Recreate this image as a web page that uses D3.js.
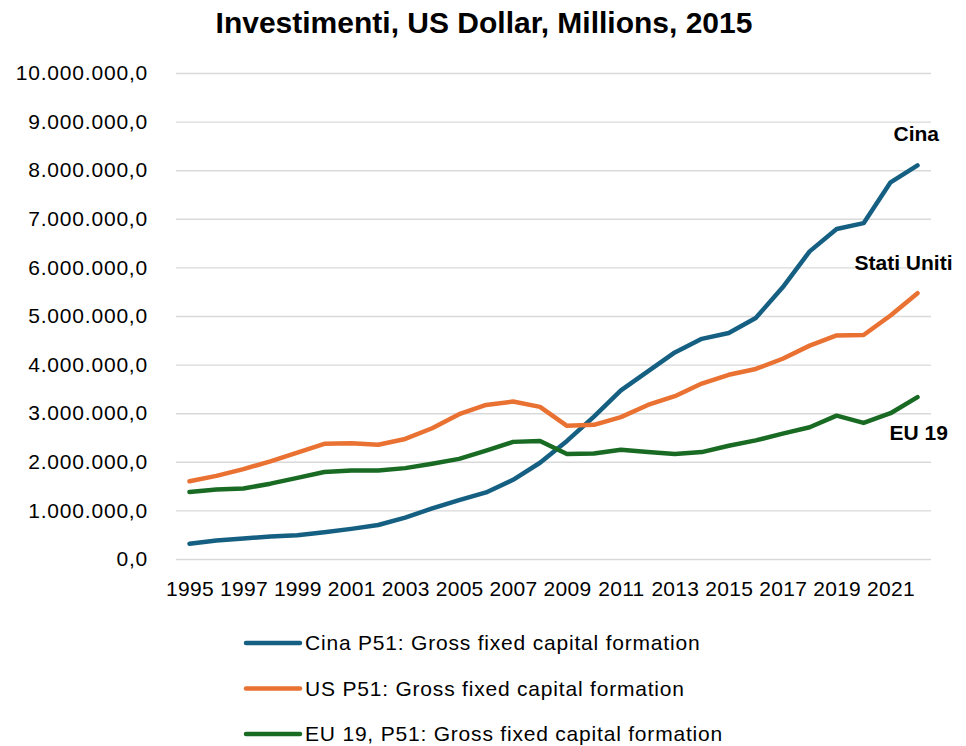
<!DOCTYPE html>
<html>
<head>
<meta charset="utf-8">
<script src="https://cdn.jsdelivr.net/npm/d3@7"></script>
<style>
  body { margin: 0; background: #fff; }
  text { font-family: "Liberation Sans", Arial, sans-serif; fill: #000; }
</style>
</head>
<body>
<div class="chartDiv"></div>
<script>
// years on the category axis
var years = d3.range(1995, 2023);
var tickYears = [1995, 1997, 1999, 2001, 2003, 2005, 2007, 2009, 2011, 2013, 2015, 2017, 2019, 2021];

// values in US Dollar millions
var cina = [315000, 380000, 420000, 465000, 490000, 550000, 620000, 700000, 850000, 1040000,
            1210000, 1370000, 1630000, 1980000, 2430000, 2930000, 3470000, 3860000, 4250000, 4530000,
            4650000, 4960000, 5590000, 6330000, 6790000, 6910000, 7750000, 8100000];
var us   = [1600000, 1710000, 1850000, 2010000, 2190000, 2370000, 2380000, 2350000, 2470000, 2690000,
            2980000, 3170000, 3240000, 3130000, 2740000, 2760000, 2920000, 3170000, 3350000, 3610000,
            3790000, 3910000, 4120000, 4390000, 4600000, 4610000, 5010000, 5470000];
var eu19 = [1380000, 1430000, 1450000, 1550000, 1670000, 1790000, 1820000, 1820000, 1870000, 1960000,
            2060000, 2230000, 2410000, 2430000, 2160000, 2170000, 2250000, 2200000, 2160000, 2200000,
            2330000, 2440000, 2580000, 2710000, 2950000, 2800000, 3000000, 3330000];

var seriesNames = ["Cina P51: Gross fixed capital formation",
                   "US P51: Gross fixed capital formation",
                   "EU 19, P51: Gross fixed capital formation"];
var endLabels = ["Cina", "Stati Uniti", "EU 19"];
var colors = ["#156082", "#E97132", "#196B24"];
var yTicks = d3.range(0, 10000001, 1000000);

var W = 966, H = 746;
var margin = {top: 73, right: 35, bottom: 187, left: 176};

var svg = d3.select('div.chartDiv').append('svg')
  .attr('width', W).attr('height', H);

var itFormat = d3.formatLocale({decimal: ",", thousands: ".", grouping: [3], currency: ["", ""]}).format(",.1f");

var x = d3.scalePoint().domain(years).range([margin.left, W - margin.right]).padding(0.5);
var y = d3.scaleLinear().domain([0, 10000000]).range([H - margin.bottom, margin.top]);

// title
svg.append('text')
  .attr('x', 484).attr('y', 33)
  .attr('text-anchor', 'middle')
  .style('font-size', '30px').style('font-weight', 'bold')
  .text('Investimenti, US Dollar, Millions, 2015');

// gridlines + y labels
var yAxis = d3.axisLeft(y).tickValues(yTicks).tickFormat(itFormat)
  .tickSize(-(W - margin.left - margin.right)).tickPadding(28);
var gy = svg.append('g').attr('transform', 'translate(' + margin.left + ',0)').call(yAxis);
gy.select('.domain').remove();
gy.selectAll('.tick line').attr('stroke', '#d9d9d9').attr('stroke-width', 1.4);
gy.selectAll('.tick text').style('font-size', '21px').style('letter-spacing', '0.8px').attr('fill', '#000');

// x labels
var xAxis = d3.axisBottom(x).tickValues(tickYears).tickSize(0).tickPadding(22);
var gx = svg.append('g').attr('transform', 'translate(0,' + (H - margin.bottom) + ')').call(xAxis);
gx.select('.domain').remove();
gx.selectAll('.tick text').style('font-size', '21px').style('letter-spacing', '0.3px').attr('fill', '#000');

// lines
var line = d3.line().x(function(d, i) { return x(years[i]); }).y(function(d) { return y(d); });
var allSeries = [cina, us, eu19];
svg.selectAll('path.serie').data(allSeries).enter().append('path')
  .attr('class', 'serie')
  .attr('d', line)
  .attr('fill', 'none')
  .attr('stroke', function(d, i) { return colors[i]; })
  .attr('stroke-width', 4.5)
  .attr('stroke-linejoin', 'round')
  .attr('stroke-linecap', 'round');

// end labels
var lastX = x(years[years.length - 1]);
var labelOff = [[-24, -32], [-63, -31], [-28, 35]];
svg.selectAll('text.endLabel').data(allSeries).enter().append('text')
  .attr('class', 'endLabel')
  .attr('x', function(d, i) { return lastX + labelOff[i][0]; })
  .attr('y', function(d, i) { return y(d[d.length - 1]) + labelOff[i][1]; })
  .attr('dy', '0.35em')
  .style('font-size', '21px').style('font-weight', 'bold')
  .text(function(d, i) { return endLabels[i]; });

// legend
var leg = svg.selectAll('g.leg').data(seriesNames).enter().append('g')
  .attr('class', 'leg')
  .attr('transform', function(d, i) { return 'translate(246,' + (643 + i * 45.5) + ')'; });
leg.append('line')
  .attr('x1', 0).attr('x2', 54).attr('y1', 0).attr('y2', 0)
  .attr('stroke', function(d, i) { return colors[i]; })
  .attr('stroke-width', 4.5).attr('stroke-linecap', 'round');
leg.append('text')
  .attr('x', 59).attr('y', 0).attr('dy', '0.35em')
  .style('font-size', '21px').style('letter-spacing', '0.8px')
  .text(function(d) { return d; });
</script>
</body>
</html>
